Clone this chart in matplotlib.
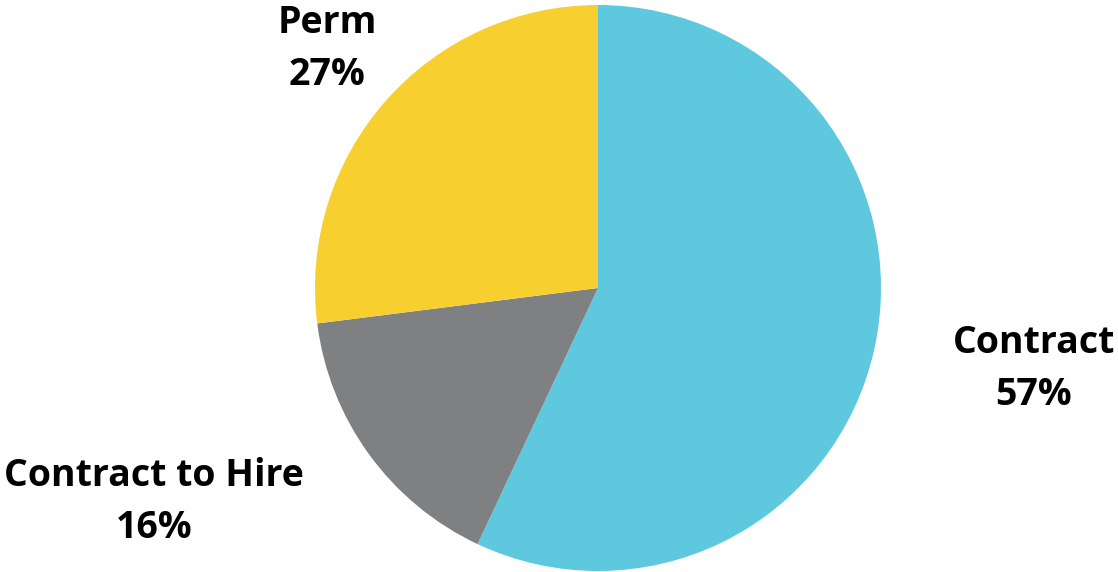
import numpy as np
import matplotlib.pyplot as plt

labels = ["Contract", "Contract to Hire", "Perm"]
shares = [57, 16, 27]
colors = ["#5EC8DF", "#7F8082", "#F7D030"]

W, H = 1118, 572
cx, cy, r = 598, 288, 283

fig = plt.figure(figsize=(W / 100, H / 100), dpi=100)
ax = fig.add_axes([0, 0, 1, 1])
ax.pie(shares, colors=colors, startangle=90, counterclock=False, radius=1,
       wedgeprops=dict(linewidth=0))
ax.set_xlim(-cx / r, (W - cx) / r)
ax.set_ylim(-(H - cy) / r, cy / r)
ax.set_aspect("equal")
ax.axis("off")

# label centres in pixels
label_pos = [(1034, 369), (154, 502), (327, 49)]
for lab, val, (px, py) in zip(labels, shares, label_pos):
    ax.text((px - cx) / r, (cy - py) / r, f"{lab}\n{val}%", ha="center", va="center",
            fontsize=27, fontweight="bold", family="Open Sans", linespacing=1.45)

fig.savefig("out.png", dpi=100)
